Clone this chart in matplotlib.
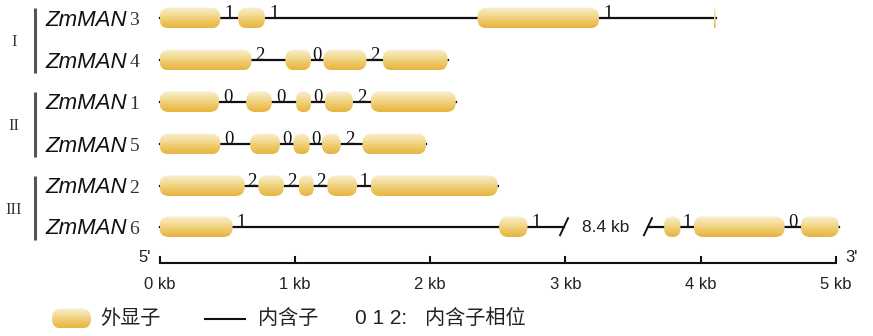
import matplotlib
matplotlib.use("Agg")
import matplotlib.pyplot as plt
import numpy as np
from matplotlib.patches import FancyBboxPatch
from matplotlib.colors import LinearSegmentedColormap

# ---------------- data ----------------
gene_prefix = "ZmMAN"
gene_nums = ["3", "4", "1", "5", "2", "6"]
groups = ["I", "II", "III"]
group_members = [[0, 1], [2, 3], [4, 5]]

exons_man3 = [(0.00, 0.45), (0.58, 0.78), (2.35, 3.25), (4.095, 4.11)]
exons_man4 = [(0.00, 0.68), (0.93, 1.12), (1.21, 1.53), (1.65, 2.13)]
exons_man1 = [(0.00, 0.44), (0.64, 0.83), (1.01, 1.12), (1.22, 1.43), (1.56, 2.19)]
exons_man5 = [(0.00, 0.45), (0.67, 0.89), (0.99, 1.11), (1.20, 1.34), (1.50, 1.97)]
exons_man2 = [(0.00, 0.63), (0.73, 0.92), (1.03, 1.14), (1.24, 1.46), (1.56, 2.50)]
exons_man6 = [(0.00, 0.54), (2.51, 2.72), (3.73, 3.85), (3.95, 4.62), (4.74, 5.02)]

phases_man3 = [1, 1, 1]
phases_man4 = [2, 0, 2]
phases_man1 = [0, 0, 0, 2]
phases_man5 = [0, 0, 0, 2]
phases_man2 = [2, 2, 2, 1]
phases_man6 = [1, 1, 1, 0]

all_exons = [exons_man3, exons_man4, exons_man1, exons_man5, exons_man2, exons_man6]
all_phases = [phases_man3, phases_man4, phases_man1, phases_man5, phases_man2, phases_man6]

break_gene = 5
break_span = (2.99, 3.61)
break_label = "8.4 kb"

scale_ticks = [0, 1, 2, 3, 4, 5]
scale_labels = ["0 kb", "1 kb", "2 kb", "3 kb", "4 kb", "5 kb"]

legend_exon = "外显子"
legend_intron = "内含子"
legend_phase_num = "0 1 2:"
legend_phase = "内含子相位"

# ---------------- layout ----------------
W, H = 873, 336
PX_PER_KB = 135.3
X0_PX = 159.5
row_y = [18, 60, 101.7, 144, 185.7, 226.7]   # pixel rows
exon_h = 20.7
axis_y = 263.3

def px(xp):
    return (xp - X0_PX) / PX_PER_KB

fig = plt.figure(figsize=(W / 100, H / 100), dpi=100)
ax = fig.add_axes([0, 0, 1, 1])
ax.set_axis_off()

cmap = LinearSegmentedColormap.from_list(
    "exon", ["#F9F0D2", "#F4DD9C", "#EDC866", "#E6B440"])
grad = np.linspace(0, 1, 64).reshape(-1, 1)

serif = "Liberation Serif"
sans = "Liberation Sans"
cjk = ["Noto Sans CJK SC", "DejaVu Sans"]

def draw_exon(x0, x1, yc, h=exon_h):
    w = x1 - x0
    r = min(9.5 / PX_PER_KB, w / 2, h / 2 / PX_PER_KB)
    patch = FancyBboxPatch((x0, yc - h / 2), w, h,
                           boxstyle=f"round,pad=0,rounding_size={r}",
                           mutation_aspect=PX_PER_KB,
                           facecolor="none", edgecolor="none", zorder=3)
    ax.add_patch(patch)
    im = ax.imshow(grad, extent=(x0, x1, yc + h / 2, yc - h / 2),
                   aspect="auto", cmap=cmap, origin="upper",
                   interpolation="bilinear", zorder=3)
    im.set_clip_path(patch)

for gi, (exons, phases, yc) in enumerate(zip(all_exons, all_phases, row_y)):
    start, end = exons[0][0], exons[-1][1]
    if gi == break_gene:
        ax.plot([start, break_span[0]], [yc, yc], color="#111111", lw=1.6, zorder=2)
        ax.plot([break_span[1], end], [yc, yc], color="#111111", lw=1.6, zorder=2)
        for bx in break_span:
            ax.plot([bx - px(X0_PX + 4), bx + px(X0_PX + 4)], [yc + 8.5, yc - 8.5],
                    color="#111111", lw=1.4, zorder=4)
        ax.text(sum(break_span) / 2, yc + 1, break_label, ha="center", va="center",
                fontsize=12.5, family=sans, color="#222222")
    else:
        ax.plot([start, end], [yc, yc], color="#111111", lw=1.6, zorder=2)
    for (a, b) in exons:
        draw_exon(a, b, yc)
    for k, ph in enumerate(phases):
        s, e = exons[k][1], exons[k + 1][0]
        lx = min(s + 0.065, (s + e) / 2)
        ax.text(lx, yc + 0.5, str(ph), ha="center", va="baseline",
                fontsize=13.5, family=serif, color="#111111", zorder=5)
    # gene label
    ax.text(px(45), yc + 2, gene_prefix, ha="left", va="center",
            fontsize=16, family=sans, style="italic", color="#111111")
    ax.text(px(129.5), yc + 2.5, gene_nums[gi], ha="left", va="center",
            fontsize=14, family=serif, color="#333333")

# group bars and numerals
for g, members in zip(groups, group_members):
    y_top = row_y[members[0]] - 10
    y_bot = row_y[members[-1]] + 13
    ax.plot([px(34.5), px(34.5)], [y_top, y_bot], color="#555555", lw=2.2,
            solid_capstyle="butt")
    ax.text(px(14), (y_top + y_bot) / 2 + 2, g, ha="center", va="center",
            fontsize=12, family=serif, color="#333333")

# scale axis
ax.plot([scale_ticks[0], scale_ticks[-1]], [axis_y, axis_y], color="#111111", lw=1.5,
        solid_capstyle="butt")
for t, lab in zip(scale_ticks, scale_labels):
    ax.plot([t, t], [axis_y, axis_y - 6], color="#111111", lw=1.5)
    ax.text(t, axis_y + 21, lab, ha="center", va="center", fontsize=12,
            family=sans, color="#222222")
ax.text(px(145), axis_y - 6, "5'", ha="center", va="center", fontsize=12,
        family=sans, color="#222222")
ax.text(px(852), axis_y - 6, "3'", ha="center", va="center", fontsize=12,
        family=sans, color="#222222")

# legend
ly = 318.5
draw_exon(px(52), px(91), ly, h=20)
ax.text(px(100), ly, legend_exon, ha="left", va="center", fontsize=14.5,
        family=cjk, color="#222222")
ax.plot([px(205), px(245)], [ly, ly], color="#111111", lw=1.5)
ax.text(px(258), ly, legend_intron, ha="left", va="center", fontsize=14.5,
        family=cjk, color="#222222")
ax.text(px(355), ly, legend_phase_num, ha="left", va="center", fontsize=15,
        family=sans, color="#222222")
ax.text(px(425), ly, legend_phase, ha="left", va="center", fontsize=14.5,
        family=cjk, color="#222222")

ax.set_xlim(px(0), px(W))
ax.set_ylim(H, 0)

fig.savefig("out.png", dpi=100)
